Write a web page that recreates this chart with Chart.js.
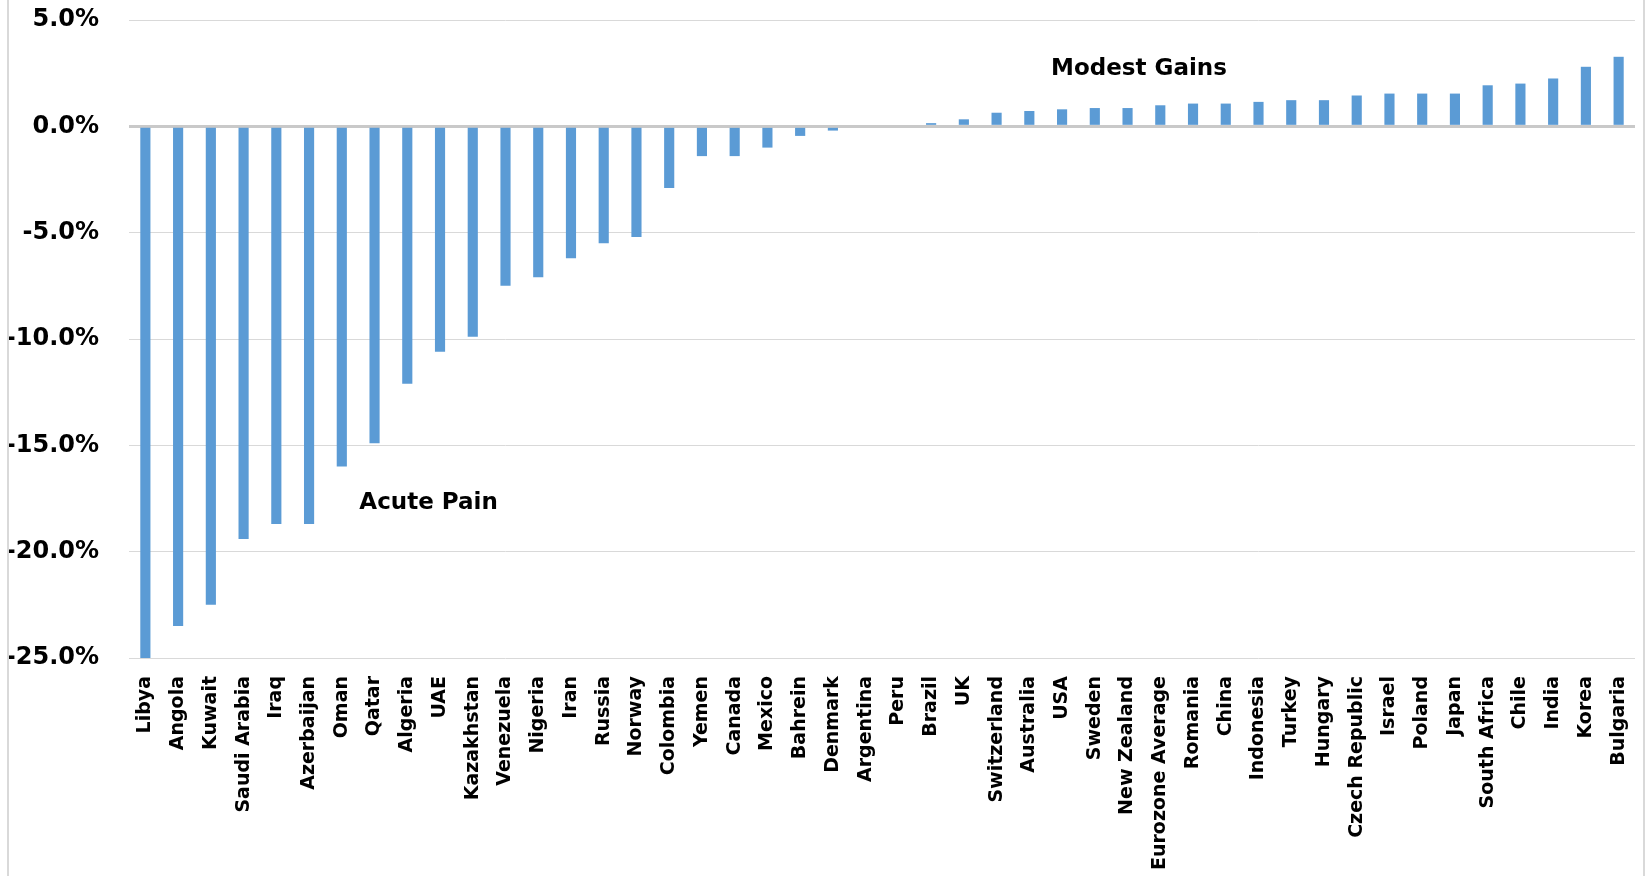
<!DOCTYPE html>
<html>
<head>
<meta charset="utf-8">
<script src="https://cdn.jsdelivr.net/npm/chart.js@4.4.1/dist/chart.umd.min.js"></script>
<style>
  html, body { margin: 0; padding: 0; background: #fff; }
  #wrap { position: relative; width: 1647px; height: 876px; }
  #frame { position: absolute; left: 7px; top: 0; width: 1638px; height: 876px;
           border-left: 2px solid #d9d9d9; border-right: 2px solid #d9d9d9; box-sizing: border-box; pointer-events: none; }
</style>
</head>
<body>
<div id="wrap">
  <canvas id="chart" width="1647" height="876"></canvas>
  <div id="frame"></div>
</div>
<script>
const countries = [
  'Libya', 'Angola', 'Kuwait', 'Saudi Arabia', 'Iraq', 'Azerbaijan', 'Oman', 'Qatar',
  'Algeria', 'UAE', 'Kazakhstan', 'Venezuela', 'Nigeria', 'Iran', 'Russia', 'Norway',
  'Colombia', 'Yemen', 'Canada', 'Mexico', 'Bahrein', 'Denmark', 'Argentina', 'Peru',
  'Brazil', 'UK', 'Switzerland', 'Australia', 'USA', 'Sweden', 'New Zealand',
  'Eurozone Average', 'Romania', 'China', 'Indonesia', 'Turkey', 'Hungary',
  'Czech Republic', 'Israel', 'Poland', 'Japan', 'South Africa', 'Chile', 'India',
  'Korea', 'Bulgaria'
];

// % change
const changes = [
  -25.0, -23.5, -22.5, -19.4, -18.7, -18.7, -16.0, -14.9,
  -12.1, -10.6, -9.9, -7.5, -7.1, -6.2, -5.5, -5.2,
  -2.9, -1.4, -1.4, -1.0, -0.45, -0.2, 0, 0,
  0.15, 0.33, 0.64, 0.72, 0.8, 0.86, 0.86,
  0.99, 1.07, 1.07, 1.15, 1.23, 1.23,
  1.45, 1.54, 1.54, 1.54, 1.93, 2.01, 2.25,
  2.8, 3.27
];

const yTicks = [5, 0, -5, -10, -15, -20, -25];

// text notes: [label, category index, y value]
const notes = [
  ['Acute Pain', 8.65, -17.7],
  ['Modest Gains', 30.35, 2.7]
];

const FONT = '"DejaVu Sans", sans-serif';

const notesPlugin = {
  id: 'notes',
  afterDatasetsDraw(chart) {
    const { ctx, scales } = chart;
    ctx.save();
    ctx.font = 'bold 23px ' + FONT;
    ctx.fillStyle = '#000';
    ctx.textAlign = 'center';
    ctx.textBaseline = 'middle';
    notes.forEach(([text, xi, yv]) => {
      const x = scales.x.getPixelForValue(0) + (scales.x.getPixelForValue(1) - scales.x.getPixelForValue(0)) * xi;
      ctx.fillText(text, x, scales.y.getPixelForValue(yv));
    });
    ctx.restore();
  }
};

new Chart(document.getElementById('chart').getContext('2d'), {
  type: 'bar',
  data: {
    labels: countries,
    datasets: [{
      data: changes,
      backgroundColor: '#5B9BD5',
      borderWidth: 0,
      categoryPercentage: 1,
      barPercentage: 0.31
    }]
  },
  options: {
    responsive: false,
    animation: false,
    devicePixelRatio: 1,
    layout: { padding: { top: 20, right: 12, left: 0, bottom: 0 } },
    scales: {
      y: {
        min: -25,
        max: 5,
        afterFit: s => { s.width = 129; s.paddingTop = 0; s.paddingBottom = 0; },
        afterBuildTicks: s => { s.ticks = yTicks.map(v => ({ value: v })); },
        border: { display: false },
        grid: {
          drawTicks: false,
          color: c => c.tick && c.tick.value === 0 ? '#c9c9c9' : '#d9d9d9',
          lineWidth: c => c.tick && c.tick.value === 0 ? 3 : 1
        },
        ticks: {
          padding: 30,
          color: '#000',
          font: { family: FONT, size: 24, weight: 'bold' },
          callback: v => v.toFixed(1) + '%'
        }
      },
      x: {
        afterFit: s => { s.height = 218; s.paddingLeft = 0; s.paddingRight = 0; },
        border: { display: false },
        grid: { display: false, drawTicks: false },
        ticks: {
          autoSkip: false,
          minRotation: 90,
          maxRotation: 90,
          padding: 18,
          color: '#000',
          font: { family: FONT, size: 19, weight: 'bold' }
        }
      }
    },
    plugins: {
      legend: { display: false },
      tooltip: { enabled: false }
    }
  },
  plugins: [notesPlugin]
});
</script>
</body>
</html>
